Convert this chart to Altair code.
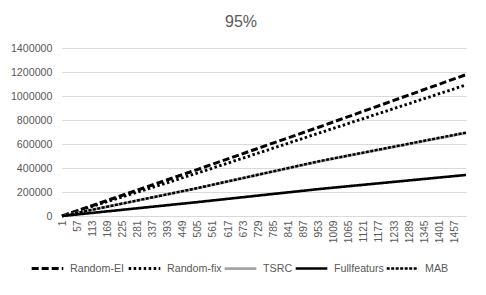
import altair as alt
import pandas as pd

# categories (x positions) and series values
x_points = [1, 500, 956, 1500]
random_ei = [0, 385000, 742000, 1178000]
random_fix = [0, 355000, 692000, 1092000]
tsrc = [0, 230000, 455000, 692000]
fullfeaturs = [0, 115000, 225000, 342000]
mab = [0, 231000, 457000, 695000]

series_names = ["Random-EI", "Random-fix", "TSRC", "Fullfeaturs", "MAB"]
series_values = [random_ei, random_fix, tsrc, fullfeaturs, mab]

x_tick_labels = list(range(1, 1458, 56))
y_ticks = [0, 200000, 400000, 600000, 800000, 1000000, 1200000, 1400000]

rows = []
for name, vals in zip(series_names, series_values):
    for xv, yv in zip(x_points, vals):
        rows.append({"x": xv, "value": yv, "series": name})
df = pd.DataFrame(rows)

TXT = "#595959"
GRID = "#D9D9D9"
FONT = "Liberation Sans"

legend = alt.Legend(
    title=None,
    orient="none",
    legendX=-32,
    legendY=203,
    direction="horizontal",
    columns=5,
    gridAlign="none",
    symbolType="stroke",
    symbolSize=1000,
    labelFont=FONT,
    labelFontSize=10.7,
    labelColor=TXT,
    labelOffset=5,
    columnPadding=-3,
    symbolStrokeColor="black",
)

chart = alt.Chart(df).mark_line(strokeCap="butt").encode(
    x=alt.X("x:Q",
            scale=alt.Scale(domain=[1, 1500], nice=False, zero=False),
            axis=alt.Axis(values=x_tick_labels, format="d", labelAngle=-90, grid=False,
                          ticks=False, domainColor=GRID, labelColor=TXT,
                          labelFont=FONT, labelFontSize=10.2, labelPadding=4,
                          title=None, labelOverlap=False, labelFlush=False)),
    y=alt.Y("value:Q",
            scale=alt.Scale(domain=[0, 1400000], nice=False),
            axis=alt.Axis(values=y_ticks, format="d", grid=True, gridColor=GRID,
                          domain=False, ticks=False, labelColor=TXT,
                          labelFont=FONT, labelFontSize=10.7, labelPadding=10,
                          title=None)),
    color=alt.Color("series:N",
                    scale=alt.Scale(domain=series_names,
                                    range=["black", "black", "#A5A5A5", "black", "black"]),
                    legend=legend),
    strokeDash=alt.StrokeDash("series:N",
                              scale=alt.Scale(domain=series_names,
                                              range=[[7, 3], [2.5, 2.5], [1, 0], [1, 0], [3, 1.5]]),
                              legend=legend),
    strokeWidth=alt.StrokeWidth("series:N",
                                scale=alt.Scale(domain=series_names,
                                                range=[3, 2.5, 3, 3, 1]),
                                legend=legend),
    order=alt.Order("series_order:Q"),
).transform_calculate(
    series_order="indexof(['Random-EI','Random-fix','TSRC','Fullfeaturs','MAB'], datum.series)"
).properties(
    width=404,
    height=168,
    title=alt.TitleParams("95%", font=FONT, fontSize=16, fontWeight="normal",
                          color=TXT, anchor="middle", dx=-23, offset=12),
    autosize=alt.AutoSizeParams(type="none"),
    padding={"left": 54, "top": 40, "right": 12, "bottom": 70},
).configure_view(stroke=None)

chart.save("out.html", embed_options={"renderer": "svg", "actions": False})
